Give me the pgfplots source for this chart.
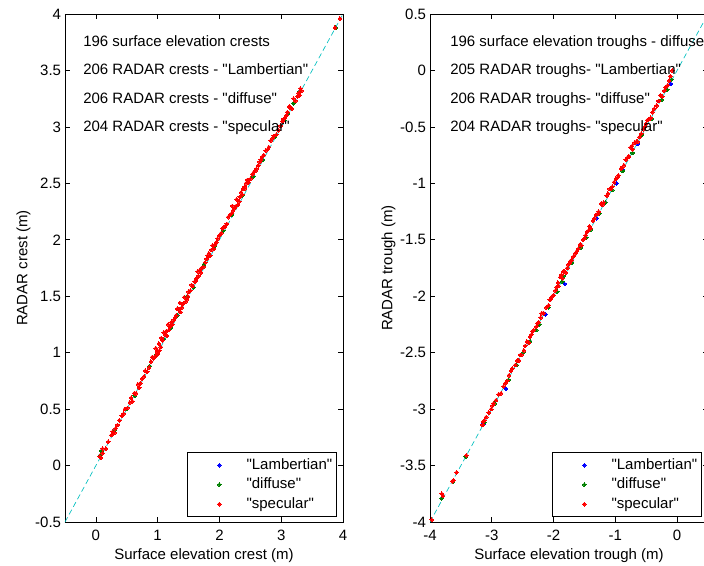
\documentclass[border=0pt]{standalone}
\usepackage{pgfplots}
\pgfplotsset{compat=1.18}
\usepackage{fontspec}
\newfontfamily\arialfont{Liberation Sans}
\definecolor{mlblue}{rgb}{0,0,1}
\definecolor{mlgreen}{rgb}{0,0.5,0}
\definecolor{mlred}{rgb}{1,0,0}
\definecolor{mlcyan}{rgb}{0,0.75,0.75}
\pgfplotsset{
  mlaxis/.style={
    width=208.5pt, height=381pt, scale only axis,
    clip mode=individual,
    axis line style={black, line width=0.5pt},
    tick align=inside, xtick pos=both, ytick pos=both,
    major tick length=3.75pt,
    tick style={black, line width=0.5pt},
    /pgf/number format/assume math mode=true,
    /pgf/number format/fixed,
    xticklabel style={yshift=-2.25pt},
    yticklabel style={xshift=1pt},
    xlabel style={at={(axis description cs:0.5,-0.0413)}, anchor=north},
    ylabel style={at={(axis description cs:-0.105,0.5)}, anchor=south},
    legend image code/.code={\path[draw=none,fill=none] (0pt,-2pt) rectangle (41pt,2pt); \draw[##1] plot coordinates {(24pt,0pt)};},
    legend style={at={(axis description cs:1,0)}, anchor=south east, xshift=-4.5pt, yshift=3.75pt,
      draw=black, line width=0.5pt, inner xsep=0pt, inner ysep=3pt, row sep=1.8pt,
      cells={anchor=west},
      nodes={inner ysep=1pt, inner xsep=3.33pt, text height=8.4pt, text depth=2.4pt}},
  },
  bl/.style={only marks, mark=*, mark size=1.4pt, color=mlblue, mark options={line width=0pt}},
  gr/.style={only marks, mark=*, mark size=1.4pt, color=mlgreen, mark options={line width=0pt}},
  rd/.style={only marks, mark=*, mark size=1.4pt, color=mlred, mark options={line width=0pt}},
  dl/.style={color=mlcyan, line width=0.5pt, dash pattern=on 4pt off 2.5pt, forget plot},
}
\begin{document}
\arialfont\fontsize{11.25}{13.5}\selectfont
\begin{tikzpicture}
\begin{axis}[mlaxis, at={(0pt,0pt)},
  xmin=-0.5, xmax=4, ymin=-0.5, ymax=4,
  xtick={0,1,2,3,4}, ytick={-0.5,0,0.5,1,1.5,2,2.5,3,3.5,4},
  xlabel={Surface elevation crest (m)}, ylabel={RADAR crest (m)}]
\addplot[dl] coordinates {(-0.5,-0.5) (4,4)};
% Lambertian
\addplot[bl] coordinates {
(0.07,0.09) (0.09,0.13) (0.30,0.31) (0.49,0.50) (0.63,0.62) (0.87,0.88) (0.98,0.98) (1.10,1.12)
(1.21,1.22) (1.32,1.33) (1.48,1.50) (1.58,1.58) (1.75,1.78) (1.92,1.94) (2.06,2.08) (2.20,2.22)
(2.37,2.39) (2.55,2.56) (2.70,2.71) (2.90,2.91) (3.05,3.06) (3.11,3.12) (3.20,3.21) (3.29,3.31) (3.88,3.88)};
% diffuse
\addplot[gr] coordinates {
(0.07,0.09) (0.09,0.13) (0.30,0.31) (0.49,0.50) (0.63,0.62) (0.87,0.88) (0.98,0.98) (1.10,1.12)
(1.21,1.22) (1.32,1.33) (1.48,1.50) (1.58,1.58) (1.75,1.78) (1.92,1.94) (2.06,2.08) (2.20,2.22)
(2.37,2.39) (2.55,2.56) (2.70,2.71) (2.90,2.91) (3.05,3.06) (3.11,3.12) (3.20,3.21) (3.29,3.31) (3.88,3.88)};
% specular
\addplot[rd] coordinates {
(0.06,0.08) (0.08,0.07) (0.11,0.11) (0.11,0.15) (0.16,0.15) (0.20,0.21) (0.27,0.30) (0.30,0.29)
(0.32,0.33) (0.35,0.36) (0.38,0.40) (0.45,0.46) (0.51,0.51) (0.55,0.56) (0.59,0.57) (0.62,0.64)
(0.65,0.64) (0.70,0.69) (0.75,0.77) (0.78,0.79) (0.83,0.83) (0.86,0.87) (0.89,0.92) (0.93,0.95)
(0.96,0.97) (0.99,1.01) (1.00,0.99) (1.02,1.08) (1.05,1.05) (1.08,1.11) (1.12,1.16) (1.15,1.15)
(1.18,1.20) (1.20,1.23) (1.22,1.27) (1.26,1.29) (1.28,1.31) (1.30,1.33) (1.34,1.38) (1.37,1.36)
(1.39,1.40) (1.43,1.49) (1.45,1.45) (1.47,1.47) (1.50,1.54) (1.53,1.55) (1.57,1.59) (1.60,1.63)
(1.63,1.66) (1.66,1.68) (1.68,1.73) (1.71,1.75) (1.74,1.76) (1.79,1.83) (1.81,1.86) (1.85,1.86)
(1.87,1.91) (1.91,1.92) (1.95,1.98) (1.97,2.01) (2.00,2.04) (2.03,2.06) (2.09,2.12) (2.12,2.14)
(2.17,2.22) (2.19,2.23) (2.22,2.26) (2.28,2.36) (2.30,2.31) (2.33,2.38) (2.35,2.42) (2.38,2.45)
(2.41,2.47) (2.43,2.50) (2.47,2.51) (2.53,2.58) (2.56,2.60) (2.60,2.63) (2.65,2.69) (2.67,2.71)
(2.72,2.75) (2.75,2.79) (2.80,2.82) (2.86,2.90) (2.92,2.93) (2.99,3.01) (3.04,3.07) (3.06,3.08)
(3.10,3.13) (3.13,3.18) (3.17,3.16) (3.23,3.23) (3.28,3.30) (3.30,3.28) (3.33,3.32) (3.87,3.88) (3.95,3.96)
(0.25,0.27) (0.42,0.44) (0.47,0.50) (0.57,0.60) (0.68,0.72) (0.72,0.73) (0.80,0.84) (0.91,0.96)
(0.97,1.04) (1.03,1.02) (1.06,1.13) (1.10,1.18) (1.14,1.19) (1.17,1.25) (1.24,1.25) (1.32,1.39)
(1.36,1.44) (1.41,1.43) (1.49,1.50) (1.55,1.60) (1.62,1.64) (1.65,1.72) (1.70,1.71) (1.77,1.80)
(1.83,1.88) (1.89,1.95) (1.93,1.96) (2.05,2.10) (2.07,2.11) (2.14,2.20) (2.21,2.30) (2.24,2.28)
(2.27,2.30) (2.32,2.34) (2.37,2.40) (2.40,2.45) (2.45,2.53) (2.50,2.54) (2.58,2.61) (2.63,2.66)
(2.70,2.74) (2.78,2.80) (2.83,2.88) (2.88,2.92) (2.96,2.97) (3.02,3.05) (3.08,3.10) (3.15,3.17)
(3.20,3.25) (3.26,3.27) (3.31,3.34)};
\legend{"Lambertian","diffuse","specular"}
\node[anchor=base west, inner sep=0pt] at (axis description cs:0.0647,0.9356) {196 surface elevation crests};
\node[anchor=base west, inner sep=0pt] at (axis description cs:0.0647,0.8800) {206 RADAR crests - "Lambertian"};
\node[anchor=base west, inner sep=0pt] at (axis description cs:0.0647,0.8242) {206 RADAR crests - "diffuse"};
\node[anchor=base west, inner sep=0pt] at (axis description cs:0.0647,0.7683) {204 RADAR crests - "specular"};
\end{axis}
\begin{axis}[mlaxis, at={(273.75pt,0pt)},
  xmin=-4, xmax=0.5, ymin=-4, ymax=0.5,
  xtick={-4,-3,-2,-1,0}, ytick={-4,-3.5,-3,-2.5,-2,-1.5,-1,-0.5,0,0.5},
  xlabel={Surface elevation trough (m)}, ylabel={RADAR trough (m)}]
\addplot[dl] coordinates {(-4,-4) (0.5,0.5)};
% Lambertian
\addplot[bl] coordinates {
(-3.81,-3.79) (-3.13,-3.13) (-2.77,-2.82) (-2.60,-2.61) (-2.38,-2.40) (-2.13,-2.16) (-1.82,-1.89)
(-1.70,-1.70) (-1.41,-1.40) (-1.30,-1.31) (-1.16,-1.17) (-0.98,-1.00) (-0.88,-0.88) (-0.64,-0.65)
(-0.42,-0.43) (-0.29,-0.27) (-0.10,-0.12)};
% diffuse
\addplot[gr] coordinates {
(-3.81,-3.79) (-3.63,-3.64) (-3.42,-3.42) (-3.12,-3.12) (-2.95,-2.95) (-2.73,-2.74) (-2.60,-2.61)
(-2.49,-2.50) (-2.38,-2.40) (-2.28,-2.30) (-2.23,-2.25) (-2.08,-2.10) (-1.94,-1.96) (-1.86,-1.87)
(-1.84,-1.82) (-1.70,-1.70) (-1.56,-1.57) (-1.47,-1.48) (-1.40,-1.41) (-1.26,-1.27) (-1.16,-1.17)
(-1.05,-1.06) (-0.88,-0.89) (-0.72,-0.73) (-0.57,-0.57) (-0.42,-0.43) (-0.25,-0.26) (-0.16,-0.17) (-0.09,-0.08)};
% specular
\addplot[rd] coordinates {
(-3.97,-3.98) (-3.81,-3.75) (-3.64,-3.64) (-3.57,-3.56) (-3.41,-3.41) (-3.15,-3.14) (-3.12,-3.10)
(-3.09,-3.07) (-3.01,-3.00) (-2.97,-2.95) (-2.93,-2.92) (-2.85,-2.86) (-2.81,-2.80) (-2.75,-2.75)
(-2.72,-2.70) (-2.67,-2.64) (-2.62,-2.61) (-2.56,-2.57) (-2.52,-2.52) (-2.48,-2.48) (-2.43,-2.40)
(-2.40,-2.41) (-2.36,-2.34) (-2.32,-2.30) (-2.28,-2.27) (-2.24,-2.23) (-2.19,-2.15) (-2.16,-2.15)
(-2.08,-2.08) (-2.04,-2.02) (-2.00,-1.99) (-1.97,-1.95) (-1.95,-1.92) (-1.92,-1.91) (-1.89,-1.83)
(-1.86,-1.84) (-1.84,-1.78) (-1.80,-1.79) (-1.76,-1.72) (-1.73,-1.69) (-1.71,-1.68) (-1.68,-1.65)
(-1.65,-1.62) (-1.60,-1.58) (-1.55,-1.55) (-1.52,-1.50) (-1.48,-1.46) (-1.44,-1.42) (-1.40,-1.40)
(-1.36,-1.33) (-1.31,-1.28) (-1.27,-1.25) (-1.23,-1.18) (-1.19,-1.17) (-1.14,-1.11) (-1.09,-1.05)
(-1.05,-1.03) (-0.99,-0.96) (-0.95,-0.93) (-0.91,-0.87) (-0.86,-0.84) (-0.83,-0.79) (-0.78,-0.76)
(-0.75,-0.68) (-0.72,-0.70) (-0.69,-0.64) (-0.64,-0.63) (-0.58,-0.56) (-0.52,-0.50) (-0.48,-0.44)
(-0.43,-0.42) (-0.40,-0.37) (-0.33,-0.31) (-0.27,-0.22) (-0.24,-0.23) (-0.19,-0.15) (-0.15,-0.13)
(-0.11,-0.05) (-0.08,0.00)
(-3.79,-3.77) (-3.62,-3.63) (-3.14,-3.11) (-3.05,-3.03) (-2.99,-2.97) (-2.89,-2.87) (-2.78,-2.77)
(-2.69,-2.66) (-2.59,-2.57) (-2.54,-2.52) (-2.46,-2.44) (-2.38,-2.36) (-2.34,-2.31) (-2.26,-2.24)
(-2.21,-2.19) (-2.12,-2.10) (-2.06,-2.03) (-2.02,-2.00) (-1.93,-1.88) (-1.87,-1.81) (-1.82,-1.78)
(-1.78,-1.75) (-1.74,-1.71) (-1.62,-1.60) (-1.57,-1.54) (-1.50,-1.49) (-1.46,-1.43) (-1.42,-1.38)
(-1.34,-1.31) (-1.29,-1.27) (-1.21,-1.19) (-1.12,-1.09) (-1.07,-1.05) (-1.02,-0.99) (-0.97,-0.95)
(-0.89,-0.86) (-0.80,-0.77) (-0.73,-0.67) (-0.66,-0.63) (-0.61,-0.59) (-0.55,-0.52) (-0.50,-0.47)
(-0.45,-0.43) (-0.37,-0.34) (-0.30,-0.27) (-0.21,-0.18) (-0.13,-0.09)};
\legend{"Lambertian","diffuse","specular"}
\node[anchor=base west, inner sep=0pt] at (axis description cs:0.072,0.9356) {196 surface elevation troughs - diffuse};
\node[anchor=base west, inner sep=0pt] at (axis description cs:0.072,0.8800) {205 RADAR troughs- "Lambertian"};
\node[anchor=base west, inner sep=0pt] at (axis description cs:0.072,0.8242) {206 RADAR troughs- "diffuse"};
\node[anchor=base west, inner sep=0pt] at (axis description cs:0.072,0.7683) {204 RADAR troughs- "specular"};
\end{axis}
\pgfresetboundingbox
\path[use as bounding box] (-48.75pt,-32.25pt) rectangle (479.25pt,391.5pt);
\end{tikzpicture}
\end{document}
